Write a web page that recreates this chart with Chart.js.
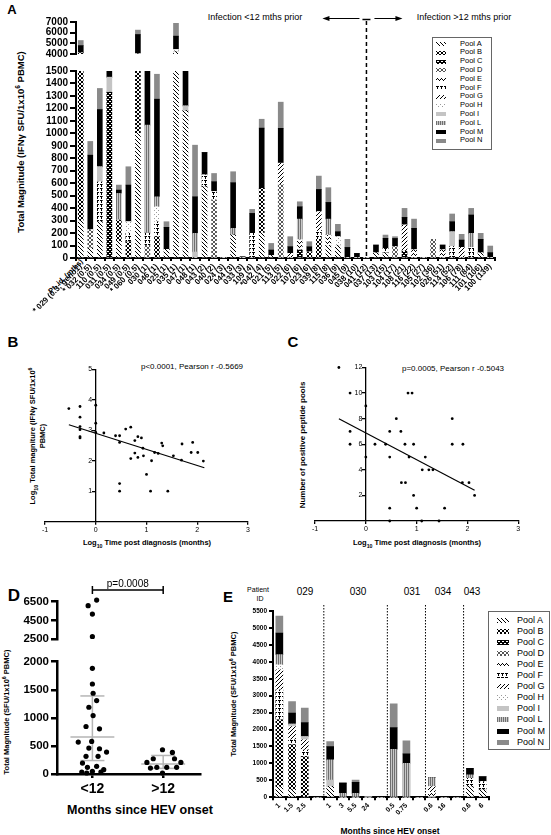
<!DOCTYPE html>
<html>
<head>
<meta charset="utf-8">
<title>HEV-specific T cell responses</title>
<script src="https://cdn.jsdelivr.net/npm/chart.js@4.4.1/dist/chart.umd.min.js"></script>
<style>
  html, body { margin: 0; padding: 0; background: #fff; }
  body { position: relative; width: 551px; height: 835px; overflow: hidden; font-family: "Liberation Sans", Arial, sans-serif; color: #000; }
  canvas { position: absolute; }
  .t { position: absolute; white-space: nowrap; line-height: 1; transform: translate(-50%, -50%); }
  .b { font-weight: bold; }
  .v { transform: translate(-50%, -50%) rotate(-90deg); text-align: center; }
  .legend { position: absolute; border: 1px solid #666; background: #fff; box-sizing: border-box; }
  sup, sub { font-size: 70%; line-height: 0; }
</style>
</head>
<body>

<!-- panel A text -->
<div class="t b" style="left:12px;top:9px;font-size:13px">A</div>
<div class="t b v" style="left:21px;top:142px;font-size:9.5px">Total Magnitude (IFNγ SFU/1x10<sup>6</sup> PBMC)</div>
<div class="t" style="left:255px;top:17px;font-size:9px">Infection &lt;12 mths prior</div>
<div class="t" style="left:464px;top:17px;font-size:9px">Infection &gt;12 mths prior</div>
<div class="b" style="position:absolute;right:473px;top:257px;font-size:7.5px;white-space:nowrap;transform-origin:100% 0;transform:rotate(-45deg)">Pt. id. (mths)</div>

<!-- panel B text -->
<div class="t b" style="left:13px;top:341px;font-size:15px">B</div>
<div class="t" style="left:192px;top:367px;font-size:8px">p&lt;0.0001, Pearson r -0.5669</div>
<div class="t b v" style="left:38px;top:436px;font-size:7.5px;line-height:10px">Log<sub>10</sub> Total magniture (IFNγ SFU/1x10<sup>6</sup><br>PBMC)</div>
<div class="t b" style="left:147px;top:543px;font-size:7.5px">Log<sub>10</sub> Time post diagnosis (months)</div>

<!-- panel C text -->
<div class="t b" style="left:293px;top:341px;font-size:15px">C</div>
<div class="t" style="left:453px;top:369px;font-size:8px">p=0.0005, Pearson r -0.5043</div>
<div class="t b v" style="left:303px;top:445px;font-size:8px">Number of positive peptide pools</div>
<div class="t b" style="left:417px;top:543px;font-size:7.5px">Log<sub>10</sub> Time post diagnosis (months)</div>

<!-- panel D text -->
<div class="t b" style="left:14px;top:595px;font-size:17px">D</div>
<div class="t b v" style="left:7px;top:712px;font-size:7.5px">Total Magnitude (SFU/1x10<sup>6</sup> PBMC)</div>
<div class="t b" style="left:140px;top:810px;font-size:12.5px">Months since HEV onset</div>

<!-- panel E text -->
<div class="t b" style="left:228px;top:596px;font-size:15px">E</div>
<div class="t" style="left:258px;top:589px;font-size:7px">Patient</div>
<div class="t" style="left:260px;top:598px;font-size:7px">ID</div>
<div class="t" style="left:305px;top:592px;font-size:10px">029</div>
<div class="t" style="left:358px;top:592px;font-size:10px">030</div>
<div class="t" style="left:412px;top:592px;font-size:10px">031</div>
<div class="t" style="left:443px;top:592px;font-size:10px">034</div>
<div class="t" style="left:472px;top:592px;font-size:10px">043</div>
<div class="t b v" style="left:234px;top:694px;font-size:7.5px">Total Magnitude (SFU/1x10<sup>6</sup> PBMC)</div>
<div class="t b" style="left:390px;top:831px;font-size:8.5px">Months since HEV onset</div>

<script>
// ---------- data ----------
const poolKeys = ['A', 'B', 'C', 'D', 'E', 'F', 'G', 'H', 'I', 'L', 'M', 'N'];
const poolNames = poolKeys.map(k => 'Pool ' + k);

// Panel A: patient id (months post onset), SFU per pool
const aLabels = ['* 029 (0.3; geno1)', '* 032 (0.5)', '110 (0.5)', '031 (0.5)', '034 (0.5)', '049 (0.5)', '* 060 (0.5)',
  '030 (1)', '046 (1)', '025 (1)', '035 (1)', '047 (1)', '048 (1)', '043 (2)', '040 (2)', '024 (3)', '044 (3)',
  '033 (3)', '109 (4)', '*042 (4)', '021 (5)', '113 (5)', '022 (6)', '107 (6)', '023 (6)', '039 (8)', '115 (8)',
  '036 (9)', '045 (9)', '038 (10)', '041 (12)', '037 (13)', '103 (15)', '104 (17)', '108 (21)', '116 (22)',
  '105 (27)', '102 (36)', '026 (51)', '114 (52)', '106 (78)', '111 (84)', '101 (106)', '100 (139)'];
const aSplitLabel = '041 (12)';
const aPoolA = [300,80,292,0,133,0,1000,0,0,69, 4200,1180,0,571,0,0,184,0,0,200, 20,0,0,0,0,0,100,100,0,0, 0,40,40,0,0,0,0,0,0,0, 0,0,40,0];
const aPoolB = [3800,0,0,0,171,130,3010,0,171,0, 0,0,0,0,0,0,0,0,0,358, 0,0,0,0,50,150,0,0,0,0, 0,0,0,0,0,0,0,0,0,0, 0,0,0,0];
const aPoolC = [0,0,0,1330,0,0,0,0,0,0, 0,0,0,0,0,0,0,0,0,0, 0,0,0,64,0,0,0,0,0,0, 0,0,0,0,54,0,0,0,0,0, 0,0,0,0];
const aPoolD = [0,144,0,0,0,0,0,100,0,0, 0,0,0,0,465,0,0,0,0,0, 0,590,0,0,0,0,0,0,0,0, 0,0,0,90,0,0,0,150,0,0, 0,0,0,0];
const aPoolE = [0,0,0,0,0,0,40,0,0,0, 0,0,0,0,0,0,0,0,0,0, 0,0,0,80,0,0,84,0,0,0, 0,0,0,0,0,64,0,0,64,0, 0,0,0,0];
const aPoolF = [0,0,318,0,0,68,0,100,120,0, 0,0,0,94,67,0,0,0,198,0, 0,0,0,0,0,71,0,0,0,0, 0,0,37,0,0,0,0,0,0,91, 0,85,0,0];
const aPoolG = [0,0,0,0,0,0,0,0,0,0, 0,0,0,0,0,0,0,0,0,0, 0,170,37,0,0,150,0,0,0,0, 0,0,0,0,210,0,0,0,0,0, 85,0,0,0];
const aPoolH = [0,0,0,0,0,93,0,0,120,0, 210,0,0,0,0,0,0,0,0,0, 0,0,0,0,0,0,0,71,0,0, 0,0,0,0,0,0,0,0,0,0, 0,0,0,0];
const aPoolI = [0,0,122,120,0,0,0,0,0,0, 0,40,48,0,0,0,0,0,0,0, 0,0,0,0,0,0,0,0,0,0, 0,0,0,0,0,0,0,0,0,120, 0,0,0,0];
const aPoolL = [0,0,0,0,214,0,0,866,80,0, 0,0,150,0,0,0,54,0,0,0, 0,0,0,168,0,0,128,0,0,0, 0,0,0,0,0,0,0,0,0,0, 0,113,0,0];
const aPoolM = [690,601,459,70,27,294,1780,484,783,177, 1265,300,293,182,80,0,366,10,160,484, 44,280,54,99,40,179,134,40,85,37, 0,64,81,67,62,174,0,0,40,80, 59,147,110,43];
const aPoolN = [474,110,169,0,40,147,410,0,200,45, 1200,0,414,0,66,0,88,0,32,71, 53,210,80,40,41,107,118,59,65,0, 0,0,26,14,72,74,0,0,0,62, 46,53,48,53];
const aPools = [aPoolA, aPoolB, aPoolC, aPoolD, aPoolE, aPoolF, aPoolG, aPoolH, aPoolI, aPoolL, aPoolM, aPoolN];

// Panel B: log10 months vs log10 total magnitude
const bX = [-0.53,-0.31,-0.31,-0.31,-0.31,-0.31,-0.31,0,0,0,0.16,0.39,0.47,0.47,0.59,0.69,0.69,0.77,0.77,0.83,0.83,0.9,0.93,0.94,1.0,1.1,1.08,1.16,1.23,1.30,1.32,1.42,1.53,1.69,1.70,1.88,1.91,2.01,2.12,0.47,0.47];
const bY = [3.71,3.78,3.43,3.12,3.02,2.79,2.75,3.82,3.23,2.93,2.91,2.82,2.82,2.60,3.04,3.10,2.07,2.66,2.25,2.79,2.11,2.75,2.41,2.16,1.55,2.0,1.0,2.27,2.24,2.58,2.49,1.0,2.16,2.02,2.55,2.27,2.60,2.27,1.99,1.25,1.0];
const bFitX = [-0.53, 2.14];
const bFitY = [3.18, 1.77];

// Panel C: log10 months vs number of positive pools
const cX = [-0.53,-0.31,-0.31,-0.31,0,0,0.18,0.39,0.47,0.47,0.47,0.47,0.6,0.69,0.7,0.77,0.78,0.83,0.91,0.85,0.94,0.94,1.0,1.1,1.11,1.17,1.24,1.32,1.44,1.55,1.70,1.70,1.91,1.9,2.03,2.14];
const cY = [12,10,7,6,9,5,6,6,7,5,1,0,8,7,3,6,3,10,10,5,6,2,1,0,4,5,4,4,0,1,8,6,6,3,3,2];
const cFitX = [-0.53, 2.14];
const cFitY = [8.0, 2.4];

// Panel D: total magnitude by time since onset
const dGroups = ['<12', '>12'];
const dLtX = [1.06,0.94,1,1,1,1,1.01,1.06,0.95,1.01,0.91,1.1,0.8,0.99,1.2,0.91,1.08,0.95,1.1,0.85,0.92,1,1.12,1.16,0.86,0.93,1.06];
const dLtY = [6677,6070,5178,2750,1882,1603,1438,1308,1189,1041,846,805,568,580,390,314,314,461,450,36,18,47,36,77,195,118,136];
const dGtX = [1.86,1.99,2.13,2.16,2.25,1.91,1.77,2.05,2.19,1.82,1.99];
const dGtY = [272,432,385,272,207,118,207,118,118,106,18];
const dMedian = [660, 180];
const dQ1 = [240, 100];
const dQ3 = [1390, 330];
const dPValue = 'p=0.0008';

// Panel E: longitudinal samples (months since onset), '' = group gap
const eLabels = ['1','1.5','2.5','','1','3','5.5','24','','0.5','0.75','','0.6','16','','0.6','6'];
const ePoolA = [310,217,0,0,315,0,0,0,0,0,0,0,0,0,0,315,217];
const ePoolB = [1980,1331,1200,0,0,0,0,0,0,0,0,0,0,0,0,0,0];
const ePoolC = [0,0,0,0,0,0,0,0,0,0,0,0,0,0,0,0,0];
const ePoolD = [0,0,0,0,0,0,0,0,0,0,0,0,0,0,0,0,0];
const ePoolE = [0,0,0,0,0,0,0,0,0,0,0,0,150,0,0,0,0];
const ePoolF = [880,147,197,0,0,0,0,0,0,0,0,0,0,0,0,247,246];
const ePoolG = [596,395,300,0,0,0,0,0,0,0,0,0,165,0,0,0,0];
const ePoolH = [148,0,0,0,0,0,0,0,0,0,0,0,0,0,0,0,0];
const ePoolI = [0,69,97,0,197,0,0,0,0,0,0,0,0,0,0,0,0];
const ePoolL = [296,0,0,0,592,118,118,0,0,1417,1006,0,267,0,0,99,0];
const ePoolM = [640,325,413,0,394,295,325,0,0,643,276,0,0,0,0,197,149];
const ePoolN = [497,345,424,0,148,30,69,10,0,700,384,0,0,0,0,0,0];
const ePools = [ePoolA, ePoolB, ePoolC, ePoolD, ePoolE, ePoolF, ePoolG, ePoolH, ePoolI, ePoolL, ePoolM, ePoolN];

// ---------- setup ----------
Chart.defaults.font.family = '"Liberation Sans", Arial, sans-serif';
Chart.defaults.color = '#000';
Chart.defaults.animation = false;
Chart.defaults.plugins.legend.display = false;
Chart.defaults.plugins.tooltip.enabled = false;

const plain = v => String(v);   // no thousands separator

function makeFill(key) {
    if (key === 'I') return '#c4c4c4';
    if (key === 'M') return '#000000';
    if (key === 'N') return '#8a8a8a';
    const t = document.createElement('canvas');
    t.width = 4; t.height = 4;
    const g = t.getContext('2d');
    const px = (x, y, c) => { g.fillStyle = c || '#000'; g.fillRect(x, y, 1, 1); };
    g.fillStyle = '#fff'; g.fillRect(0, 0, 4, 4);
    if (key === 'A') { for (let i = 0; i < 4; i++) px(i, i); }
    else if (key === 'G') { for (let i = 0; i < 4; i++) px(3 - i, i); }
    else if (key === 'B') { for (let i = 0; i < 4; i++) { px(i, i); px(3 - i, i); } }
    else if (key === 'C') { g.fillStyle = '#000'; g.fillRect(0, 0, 4, 4); px(1, 1, '#fff'); px(2, 1, '#fff'); px(0, 3, '#fff'); px(3, 3, '#fff'); }
    else if (key === 'D') { for (let i = 0; i < 4; i++) { px(i, i, '#555'); px(3 - i, i, '#555'); } }
    else if (key === 'E') { px(0, 2); px(1, 1); px(2, 2); px(3, 3); }
    else if (key === 'F') { px(0, 0); px(1, 0); px(2, 0); px(1, 1); px(1, 2); }
    else if (key === 'H') { px(0, 0, '#999'); px(2, 2, '#999'); }
    else if (key === 'L') { g.fillStyle = '#707070'; g.fillRect(0, 0, 1, 4); g.fillRect(2, 0, 1, 4); g.fillStyle = '#c8c8c8'; g.fillRect(1, 0, 1, 4); g.fillRect(3, 0, 1, 4); }
    return g.createPattern(t, 'repeat');
}
const fills = {};
poolKeys.forEach(k => { fills[k] = makeFill(k); });

function canvasAt(left, top, w, h) {
    const c = document.createElement('canvas');
    c.width = w; c.height = h;
    c.style.left = left + 'px'; c.style.top = top + 'px';
    c.style.width = w + 'px'; c.style.height = h + 'px';
    document.body.appendChild(c);
    return c;
}

function axisLook(width, tick) {
    return {
        grid: { drawOnChartArea: false, tickLength: tick, color: '#000', lineWidth: width },
        border: { color: '#000', width: width }
    };
}

function poolSets(pools, thickness) {
    return poolKeys.map((k, i) => ({
        label: poolNames[i], data: pools[i], backgroundColor: fills[k],
        borderWidth: 0, barThickness: thickness
    }));
}

function arrow(ctx, x0, y, x1) {
    const dir = Math.sign(x1 - x0);
    ctx.beginPath(); ctx.moveTo(x0, y); ctx.lineTo(x1 - dir * 4, y); ctx.stroke();
    ctx.beginPath(); ctx.moveTo(x1, y); ctx.lineTo(x1 - dir * 7, y - 2.5); ctx.lineTo(x1 - dir * 7, y + 2.5); ctx.closePath(); ctx.fill();
}

// ---------- panel A ----------
const aSeparator = {
    id: 'aSeparator',
    afterDraw(chart) {
        const { ctx, chartArea, scales } = chart;
        const x = scales.x.getPixelForValue(aLabels.indexOf(aSplitLabel));
        ctx.save();
        ctx.strokeStyle = '#000'; ctx.fillStyle = '#000'; ctx.lineWidth = 1.5;
        ctx.setLineDash([4, 3]);
        ctx.beginPath(); ctx.moveTo(x, 21); ctx.lineTo(x, chartArea.bottom); ctx.stroke();
        ctx.setLineDash([]);
        ctx.beginPath(); ctx.moveTo(x - 4, 19.5); ctx.lineTo(x + 4, 19.5); ctx.stroke();
        ctx.lineWidth = 1;
        arrow(ctx, x - 7, 18.5, x - 44);
        arrow(ctx, x + 8, 18.5, x + 36);
        ctx.restore();
    }
};

new Chart(canvasAt(0, 0, 551, 340), {
    type: 'bar',
    data: { labels: aLabels, datasets: poolSets(aPools, 5) },
    options: {
        responsive: false,
        layout: { padding: { left: 0, right: 56, top: 71, bottom: 0 } },
        scales: {
            x: {
                stacked: true,
                ticks: { autoSkip: false, maxRotation: 45, minRotation: 45, padding: 1, font: { size: 8, weight: 'bold' } },
                ...axisLook(2, 3),
                afterFit: s => { s.height = 82; }
            },
            y: {
                stacked: true, min: 0, max: 1500,
                ticks: { stepSize: 100, autoSkip: false, padding: 2, font: { size: 10, weight: 'bold' }, callback: plain },
                ...axisLook(2, 6),
                afterFit: s => { s.width = 76; }
            }
        }
    },
    plugins: [aSeparator]
});

new Chart(canvasAt(0, 0, 551, 64), {
    type: 'bar',
    data: { labels: aLabels, datasets: poolSets(aPools, 5) },
    options: {
        responsive: false,
        layout: { padding: { left: 0, right: 56, top: 22, bottom: 10 } },
        scales: {
            x: { stacked: true, display: false },
            y: {
                stacked: true, min: 4000, max: 7000,
                ticks: { stepSize: 1000, autoSkip: false, padding: 2, font: { size: 10, weight: 'bold' }, callback: plain },
                ...axisLook(2, 6),
                afterFit: s => { s.width = 76; }
            }
        }
    }
});

// ---------- panels B and C ----------
function corrChart(canvas, xs, ys, fitX, fitY, yMax, yStep, pad) {
    return new Chart(canvas, {
        type: 'scatter',
        data: {
            datasets: [
                { data: xs.map((x, i) => ({ x, y: ys[i] })), pointRadius: 1.4, backgroundColor: '#000', borderWidth: 0, clip: false },
                { data: fitX.map((x, i) => ({ x, y: fitY[i] })), showLine: true, pointRadius: 0, borderColor: '#000', borderWidth: 1.2 }
            ]
        },
        options: {
            responsive: false,
            layout: { padding: pad },
            scales: {
                x: {
                    type: 'linear', min: -1, max: 3,
                    ticks: { stepSize: 1, padding: 1, font: { size: 7 } },
                    ...axisLook(1.3, 3),
                    afterFit: s => { s.height = 16; }
                },
                y: {
                    type: 'linear', min: 0, max: yMax, position: { x: 0 },
                    ticks: { stepSize: yStep, autoSkip: false, font: { size: 7 }, callback: v => (v === 0 ? null : v + '\u2002') },
                    ...axisLook(1.3, 3),
                    afterFit: s => { s.width = 0; }
                }
            }
        }
    });
}
corrChart(canvasAt(0, 340, 275, 205), bX, bY, bFitX, bFitY, 5, 1, { left: 45, right: 27, top: 29.3, bottom: 7.3 });
corrChart(canvasAt(275, 340, 276, 205), cX, cY, cFitX, cFitY, 12, 2, { left: 40, right: 32.7, top: 27.5, bottom: 8 });

// ---------- panel D ----------
const dStats = {
    id: 'dStats',
    beforeDatasetsDraw(chart) {
        const { ctx, scales: { x, y } } = chart;
        ctx.save();
        ctx.strokeStyle = '#b5b5b5'; ctx.lineWidth = 1.5;
        const hline = (cx, v, hw) => {
            ctx.beginPath();
            ctx.moveTo(x.getPixelForValue(cx - hw), y.getPixelForValue(v));
            ctx.lineTo(x.getPixelForValue(cx + hw), y.getPixelForValue(v));
            ctx.stroke();
        };
        dMedian.forEach((m, i) => {
            const cx = i + 1;
            hline(cx, m, 0.31);
            hline(cx, dQ1[i], 0.17);
            hline(cx, dQ3[i], 0.17);
            ctx.beginPath();
            ctx.moveTo(x.getPixelForValue(cx), y.getPixelForValue(dQ1[i]));
            ctx.lineTo(x.getPixelForValue(cx), y.getPixelForValue(dQ3[i]));
            ctx.stroke();
        });
        ctx.restore();
    },
    afterDraw(chart) {
        const { ctx, scales: { x } } = chart;
        const x0 = x.getPixelForValue(1), x1 = x.getPixelForValue(2), yb = 30;
        ctx.save();
        ctx.strokeStyle = '#000'; ctx.lineWidth = 1.5;
        ctx.beginPath();
        ctx.moveTo(x0, yb - 4); ctx.lineTo(x0, yb + 4);
        ctx.moveTo(x0, yb); ctx.lineTo(x1, yb);
        ctx.moveTo(x1, yb - 4); ctx.lineTo(x1, yb + 4);
        ctx.stroke();
        ctx.fillStyle = '#000';
        ctx.font = '10px "Liberation Sans", Arial, sans-serif';
        ctx.textAlign = 'center'; ctx.textBaseline = 'bottom';
        ctx.fillText(dPValue, (x0 + x1) / 2, yb - 1);
        ctx.restore();
    }
};

function dConfig(yMin, yMax, yStep, pad, showX, clip, plugins) {
    const dot = { pointRadius: 2.6, backgroundColor: '#000', borderWidth: 0, clip: clip };
    return {
        type: 'scatter',
        data: {
            datasets: [
                { data: dLtX.map((x, i) => ({ x, y: dLtY[i] })), ...dot },
                { data: dGtX.map((x, i) => ({ x, y: dGtY[i] })), ...dot }
            ]
        },
        options: {
            responsive: false,
            layout: { padding: pad },
            scales: {
                x: showX ? {
                    type: 'linear', min: 0.5, max: 2.52,
                    afterBuildTicks: s => { s.ticks = dGroups.map((_, i) => ({ value: i + 1 })); },
                    ticks: { padding: 3, font: { size: 14, weight: 'bold' }, callback: v => dGroups[v - 1] },
                    ...axisLook(2.5, 4),
                    afterFit: s => { s.height = 22; }
                } : { type: 'linear', min: 0.5, max: 2.52, display: false },
                y: {
                    min: yMin, max: yMax,
                    ticks: { stepSize: yStep, autoSkip: false, padding: 2, font: { size: 11.5, weight: 'bold' }, callback: plain },
                    ...axisLook(2.5, 6),
                    afterFit: s => { s.width = 57; }
                }
            }
        },
        plugins: plugins
    };
}
new Chart(canvasAt(0, 560, 230, 275), dConfig(0, 2000, 500, { left: 0, right: 30, top: 101.7, bottom: 39 }, true,
    { left: false, right: false, top: 0, bottom: 4 }, [dStats]));
new Chart(canvasAt(0, 560, 230, 90), dConfig(2500, 6500, 2000, { left: 0, right: 30, top: 41.7, bottom: 11 }, false,
    { left: false, right: false, top: 8, bottom: 0 }, []));

// ---------- panel E ----------
const eGapIndex = eLabels.map((l, i) => (l === '' ? i : -1)).filter(i => i >= 0);
const eDividers = {
    id: 'eDividers',
    afterDraw(chart) {
        const { ctx, chartArea, scales: { x } } = chart;
        ctx.save();
        ctx.strokeStyle = '#000'; ctx.lineWidth = 1;
        ctx.setLineDash([1.5, 1.5]);
        eGapIndex.forEach(g => {
            const px = (x.getPixelForValue(g) + x.getPixelForValue(g + 1)) / 2;
            ctx.beginPath(); ctx.moveTo(px, chartArea.top - 6); ctx.lineTo(px, chartArea.bottom); ctx.stroke();
        });
        ctx.restore();
    }
};
new Chart(canvasAt(230, 600, 321, 235), {
    type: 'bar',
    data: { labels: eLabels, datasets: poolSets(ePools, 7) },
    options: {
        responsive: false,
        layout: { padding: { left: 0, right: 62, top: 11, bottom: 15.7 } },
        scales: {
            x: {
                stacked: true,
                ticks: { autoSkip: false, maxRotation: 45, minRotation: 45, padding: 1, font: { size: 7, weight: 'bold' } },
                ...axisLook(2, 3),
                afterFit: s => { s.height = 22; }
            },
            y: {
                stacked: true, min: 0, max: 5500,
                ticks: { stepSize: 500, autoSkip: false, padding: 2, font: { size: 6.5, weight: 'bold' }, callback: plain },
                ...axisLook(2, 4),
                afterFit: s => { s.width = 43; }
            }
        }
    },
    plugins: [eDividers]
});

// ---------- legends ----------
function buildLegend(left, top, w, h, rowH, padTop, sw, swX, txtX, fontSize) {
    const box = document.createElement('div');
    box.className = 'legend';
    Object.assign(box.style, { left: left + 'px', top: top + 'px', width: w + 'px', height: h + 'px' });
    poolKeys.forEach((k, i) => {
        const c = document.createElement('canvas');
        c.width = sw[0]; c.height = sw[1];
        const g = c.getContext('2d');
        g.fillStyle = fills[k]; g.fillRect(0, 0, sw[0], sw[1]);
        Object.assign(c.style, { left: swX + 'px', top: (padTop + i * rowH + (rowH - sw[1]) / 2) + 'px' });
        box.appendChild(c);
        const t = document.createElement('div');
        t.textContent = poolNames[i];
        Object.assign(t.style, { position: 'absolute', left: txtX + 'px', top: (padTop + i * rowH) + 'px', lineHeight: rowH + 'px', fontSize: fontSize + 'px', whiteSpace: 'nowrap' });
        box.appendChild(t);
    });
    document.body.appendChild(box);
}
buildLegend(432, 37, 60, 113, 8.8, 1.5, [10, 4], 3, 27, 7.5);
buildLegend(488, 611, 62, 139, 11.1, 2.5, [12, 5], 8, 28, 9);
</script>
</body>
</html>
